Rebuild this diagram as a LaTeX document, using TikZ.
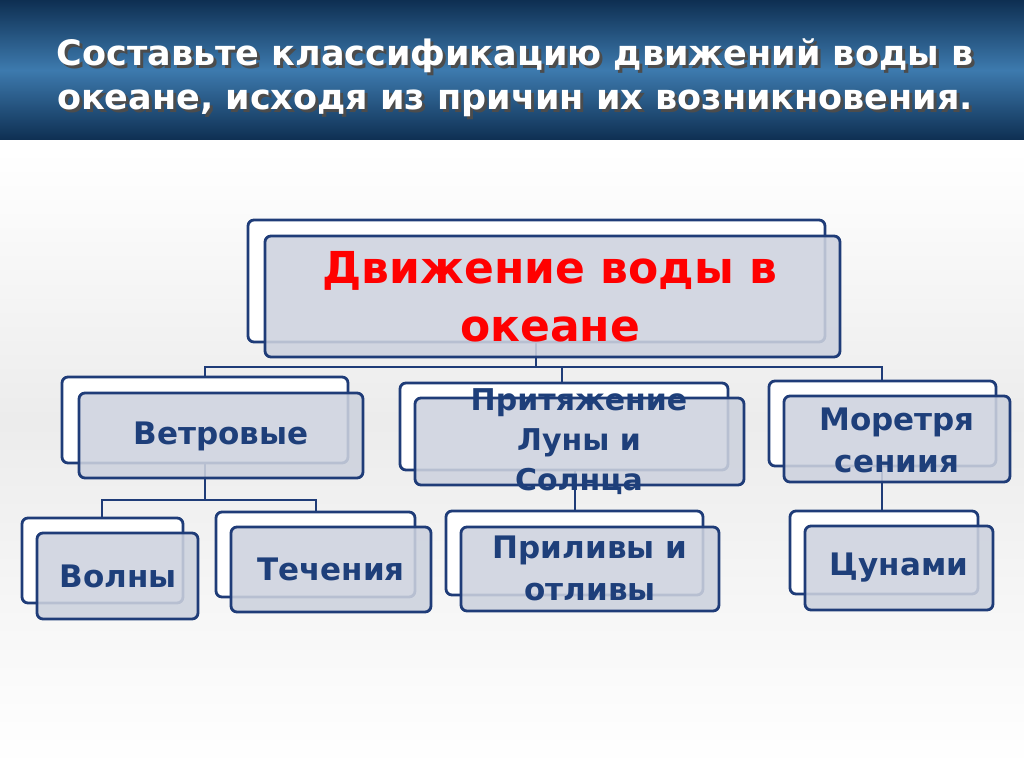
\documentclass[tikz,border=0pt]{standalone}
\usepackage{fontspec}
\setmainfont{DejaVu Sans}
\begin{document}
\begin{tikzpicture}[x=1pt,y=-1pt,
  back/.style={draw=linecol,line width=2.8pt,fill=white,rounded corners=6pt},
  front/.style={draw=linecol,line width=2.8pt,fill=boxfill,fill opacity=0.88,rounded corners=6pt},
  lbl/.style={text=txtcol,font=\bfseries\fontsize{31}{36}\selectfont,align=center},
  conn/.style={draw=linecol,line width=2.5pt}]
\definecolor{linecol}{HTML}{1F3C78}
\definecolor{boxfill}{HTML}{CDD2DE}
\definecolor{txtcol}{HTML}{1E3F7A}
\definecolor{hdr1}{HTML}{0E2F52}
\definecolor{hdr2}{HTML}{3D7AAE}
\useasboundingbox (0,0) rectangle (1024,767);
\fill[white] (0,0) rectangle (1024,767);
\shade[top color=white,bottom color=white!85!gray] (0,150) rectangle (1024,420);
\shade[top color=white!85!gray,bottom color=white] (0,420) rectangle (1024,767);
\shade[top color=hdr1,bottom color=hdr1,middle color=hdr2] (0,0) rectangle (1024,140);
\node[text=black!70,font=\bfseries\fontsize{35}{44}\selectfont,align=center] at (518,81) {Составьте классификацию движений воды в\\океане, исходя из причин их возникновения.};
\node[text=white,font=\bfseries\fontsize{35}{44}\selectfont,align=center] (title) at (515,78) {Составьте классификацию движений воды в\\океане, исходя из причин их возникновения.};
% connectors
\coordinate (h0) at (536,367);
\draw[conn] (536,342) -- (h0);
\draw[conn] (205,377) |- (h0) -| (882,381);
\draw[conn] (562,367) -- (562,383);
\draw[conn] (205,463) -- (205,500);
\draw[conn] (102,518) |- (205,500) -| (316,512);
\draw[conn] (575,470) -- (575,511);
\draw[conn] (882,466) -- (882,511);
% boxes
\draw[back] (248,220) rectangle (825,342);
\draw[front] (265,236) rectangle (840,357);
\node[text=red,font=\bfseries\fontsize{44}{58}\selectfont,align=center] (top) at (550,297) {Движение воды в\\океане};
\draw[back] (62,377) rectangle (348,463);
\draw[front] (79,393) rectangle (363,478);
\node[lbl] (v) at (221,436) {Ветровые};
\draw[back] (400,383) rectangle (728,470);
\draw[front] (415,398) rectangle (744,485);
\node[lbl,font=\bfseries\fontsize{30}{40}\selectfont] (p) at (579,442) {Притяжение\\Луны и\\Солнца};
\draw[back] (769,381) rectangle (996,466);
\draw[front] (784,396) rectangle (1010,482);
\node[lbl,font=\bfseries\fontsize{31}{42}\selectfont] (m) at (897,440) {Моретря\\сениия};
\draw[back] (22,518) rectangle (183,603);
\draw[front] (37,533) rectangle (198,619);
\node[lbl] (w) at (118,576) {Волны};
\draw[back] (216,512) rectangle (415,597);
\draw[front] (231,527) rectangle (431,612);
\node[lbl] (t) at (331,569) {Течения};
\draw[back] (446,511) rectangle (703,595);
\draw[front] (461,527) rectangle (719,611);
\node[lbl,font=\bfseries\fontsize{31}{42}\selectfont] (pr) at (590,568) {Приливы и\\отливы};
\draw[back] (790,511) rectangle (978,594);
\draw[front] (805,526) rectangle (993,610);
\node[lbl] (c) at (899,568) {Цунами};
\end{tikzpicture}
\end{document}
